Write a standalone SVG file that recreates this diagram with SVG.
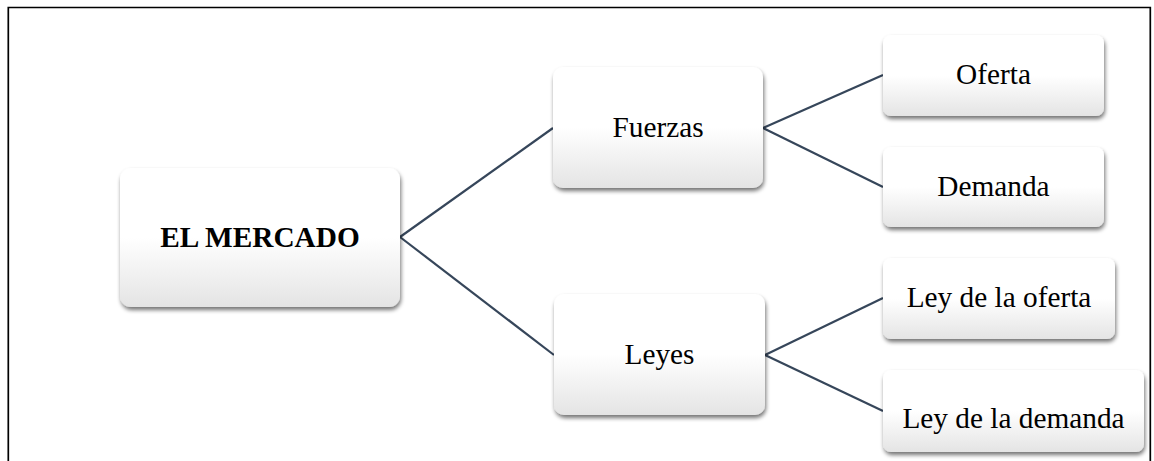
<svg xmlns="http://www.w3.org/2000/svg" width="1154" height="461" viewBox="0 0 1154 461">
  <style>
    .box { fill: url(#g); filter: url(#sh); }
    .t { font-family: "Liberation Serif", "Times New Roman", serif; font-size: 29.3px; fill: #000; text-anchor: middle; }
    .b { font-weight: bold; }
    .c { stroke: #36465a; stroke-width: 2.2; fill: none; }
  </style>
  <defs>
    <linearGradient id="g" x1="0" y1="0" x2="0" y2="1">
      <stop offset="0" stop-color="#ffffff"/>
      <stop offset="0.5" stop-color="#ffffff"/>
      <stop offset="1" stop-color="#e4e4e4"/>
    </linearGradient>
    <filter id="sh" x="-10%" y="-10%" width="125%" height="130%">
      <feGaussianBlur in="SourceAlpha" stdDeviation="2.2"/>
      <feOffset dx="1" dy="3" result="o"/>
      <feComponentTransfer><feFuncA type="linear" slope="0.55"/></feComponentTransfer>
      <feMerge><feMergeNode/><feMergeNode in="SourceGraphic"/></feMerge>
    </filter>
  </defs>
  <rect width="1154" height="461" fill="#fff"/>
  <path d="M8.3,461 V7.5 H1150.3 V461" fill="none" stroke="#000" stroke-width="1.7"/>
  <g id="connectors">
    <line class="c" x1="400" y1="237" x2="553" y2="128"/>
    <line class="c" x1="400" y1="237" x2="554" y2="355"/>
    <line class="c" x1="763" y1="128" x2="883" y2="75"/>
    <line class="c" x1="763" y1="128" x2="883" y2="187"/>
    <line class="c" x1="765" y1="355" x2="883" y2="298"/>
    <line class="c" x1="765" y1="355" x2="883" y2="411"/>
  </g>
  <g id="node-mercado">
    <rect class="box" x="120" y="168" width="280" height="139" rx="11"/>
    <text class="t b" x="260" y="247">EL MERCADO</text>
  </g>
  <g id="node-fuerzas">
    <rect class="box" x="553" y="67" width="210" height="121" rx="10"/>
    <text class="t" x="658" y="137">Fuerzas</text>
  </g>
  <g id="node-leyes">
    <rect class="box" x="554" y="294" width="211" height="121" rx="10"/>
    <text class="t" x="659.5" y="364">Leyes</text>
  </g>
  <g id="node-oferta">
    <rect class="box" x="883" y="35" width="221" height="81" rx="8"/>
    <text class="t" x="993.5" y="84">Oferta</text>
  </g>
  <g id="node-demanda">
    <rect class="box" x="883" y="147" width="221" height="80" rx="8"/>
    <text class="t" x="993.5" y="196">Demanda</text>
  </g>
  <g id="node-ley-oferta">
    <rect class="box" x="883" y="258" width="232" height="81" rx="8"/>
    <text class="t" x="999" y="307">Ley de la oferta</text>
  </g>
  <g id="node-ley-demanda">
    <rect class="box" x="883" y="370" width="261" height="82" rx="8"/>
    <text class="t" x="1013.5" y="428">Ley de la demanda</text>
  </g>
</svg>
